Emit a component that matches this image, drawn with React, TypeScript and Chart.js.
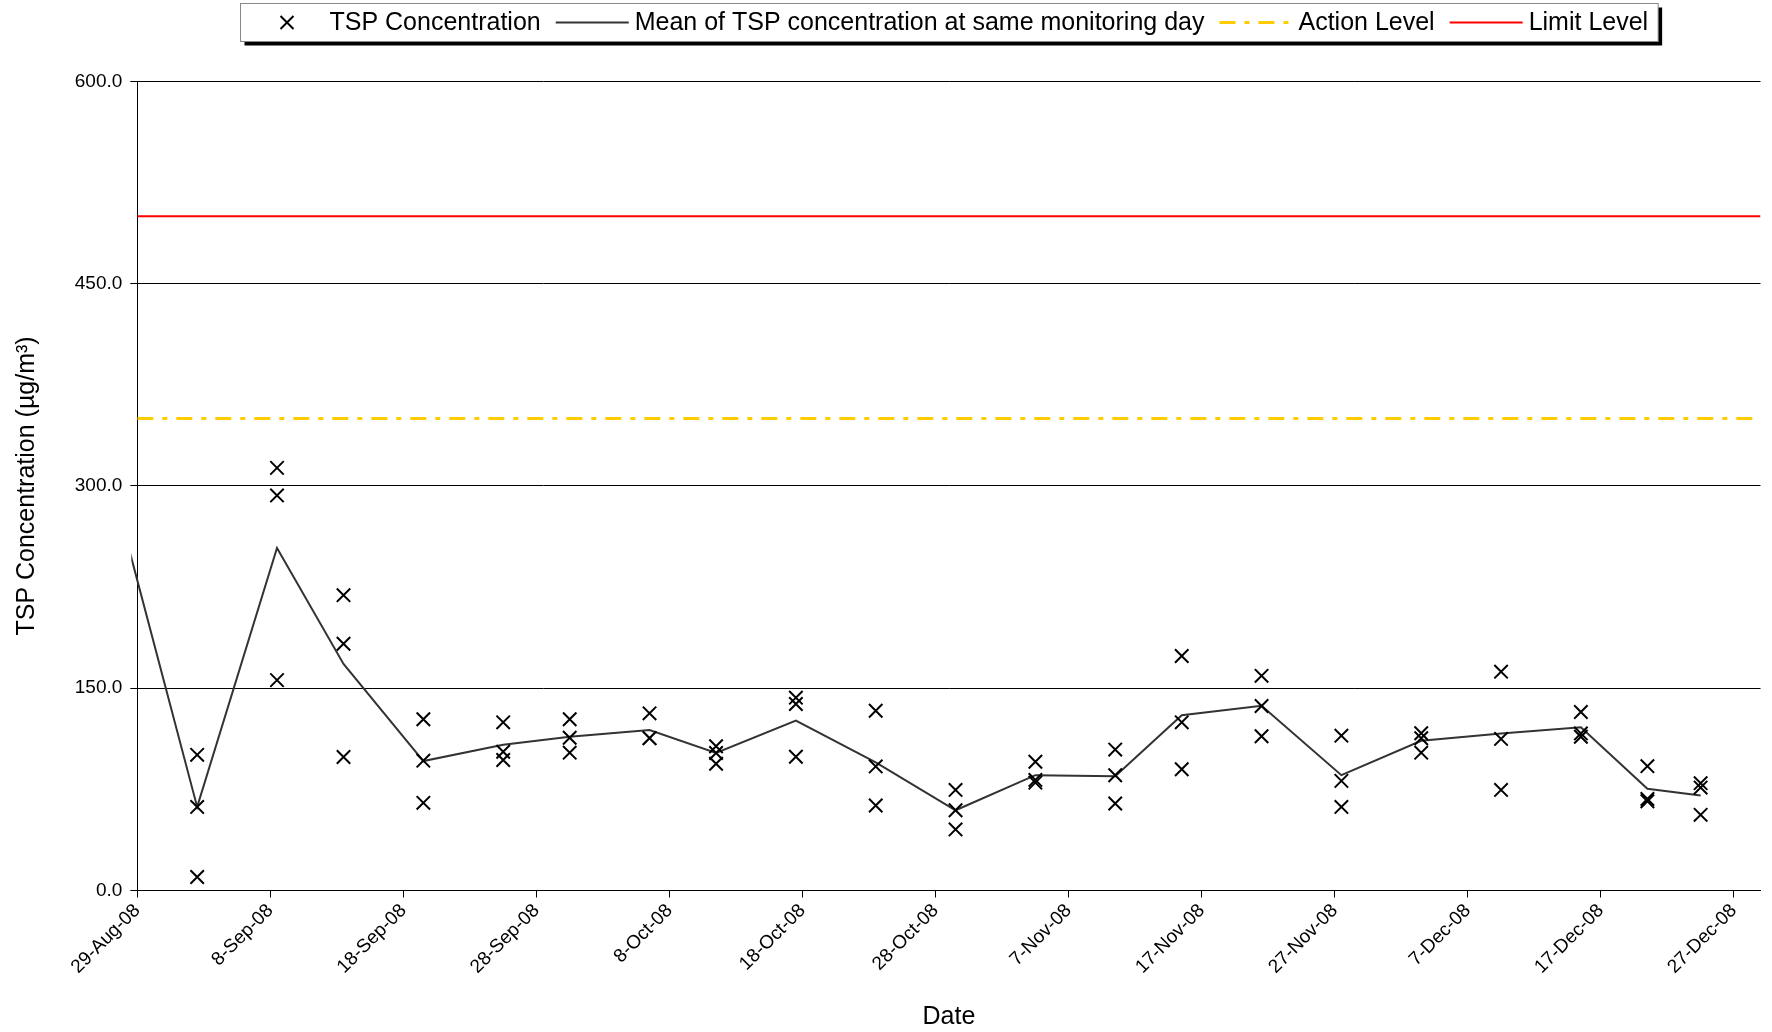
import React, { useEffect, useRef } from "react";
import { Chart, registerables } from "chart.js";

Chart.register(...registerables);

// ---------- data ----------
const axisStartLabel = "29-Aug-08";
const axisEndLabel = "29-Dec-08";
const xTickLabels = [
  "29-Aug-08", "8-Sep-08", "18-Sep-08", "28-Sep-08", "8-Oct-08", "18-Oct-08", "28-Oct-08",
  "7-Nov-08", "17-Nov-08", "27-Nov-08", "7-Dec-08", "17-Dec-08", "27-Dec-08",
];
const yTickValues = [0, 150, 300, 450, 600];

// monitoring days (samples taken around midday)
const monitoringDates = [
  "2008-09-02 12:00", "2008-09-08 12:00", "2008-09-13 12:00", "2008-09-19 12:00",
  "2008-09-25 12:00", "2008-09-30 12:00", "2008-10-06 12:00", "2008-10-11 12:00",
  "2008-10-17 12:00", "2008-10-23 12:00", "2008-10-29 12:00", "2008-11-04 12:00",
  "2008-11-10 12:00", "2008-11-15 12:00", "2008-11-21 12:00", "2008-11-27 12:00",
  "2008-12-03 12:00", "2008-12-09 12:00", "2008-12-15 12:00", "2008-12-20 12:00",
  "2008-12-24 12:00",
];
const tspReading1 = [100.6, 313.4, 219, 127, 124.7, 127, 131.4, 107, 143, 133.3, 74.6, 95.5, 104.5, 173.9, 159.2, 114.8, 116.6, 162.3, 132.4, 92.2, 79.6];
const tspReading2 = [62, 293, 183, 96.3, 102.9, 113.3, 113, 102, 138.3, 92, 59.5, 82, 85.5, 124.7, 136.8, 81.3, 112.9, 112.4, 116.5, 67.9, 76.3];
const tspReading3 = [10, 156, 99, 65, 96.8, 102.2, 113, 94, 99.2, 63, 45.3, 80, 64.5, 89.9, 114.4, 62, 102.2, 74.6, 114, 66.2, 56.1];

// mean line (includes the previous monitoring day, just before the axis start)
const meanDates = ["2008-08-27 12:00", ...monitoringDates];
const meanValues = [286, 62, 254, 168, 96, 108, 114, 119, 102, 126, 95, 59.5, 85.5, 84.8, 130, 137, 85.5, 111, 116.5, 121, 75.4, 70.5];

const actionLevel = 350;
const limitLevel = 500;

const seriesNames = [
  "TSP Concentration",
  "Mean of TSP concentration at same monitoring day",
  "Action Level",
  "Limit Level",
];

// ---------- helpers ----------
const MONTHS = ["Jan", "Feb", "Mar", "Apr", "May", "Jun", "Jul", "Aug", "Sep", "Oct", "Nov", "Dec"];
const DAY_MS = 86400000;

function isoToDay(s: string): number {
  const [d, t] = s.split(" ");
  const [Y, M, D] = d.split("-").map(Number);
  let h = 0;
  if (t) h = Number(t.split(":")[0]);
  return (Date.UTC(Y, M - 1, D) + h * 3600000) / DAY_MS;
}
function labelToDay(s: string): number {
  const [d, m, y] = s.split("-");
  return Date.UTC(2000 + Number(y), MONTHS.indexOf(m), Number(d)) / DAY_MS;
}
function dayToLabel(v: number): string {
  const dt = new Date(Math.round(v) * DAY_MS);
  const yy = String(dt.getUTCFullYear() % 100).padStart(2, "0");
  return `${dt.getUTCDate()}-${MONTHS[dt.getUTCMonth()]}-${yy}`;
}

const FONT = "'Liberation Sans', Arial, Helvetica, sans-serif";

const legendPlugin = {
  id: "boxLegend",
  afterDraw(chart: any) {
    const ctx: CanvasRenderingContext2D = chart.ctx;
    const area = chart.chartArea;
    ctx.save();
    ctx.font = `25px ${FONT}`;
    const glyphW = 73;
    const textGap = 6;
    const itemGap = 15;
    const padL = 10;
    const padR = 10;
    const widths = seriesNames.map((s) => ctx.measureText(s).width);
    let total = padL + padR + itemGap * (seriesNames.length - 1);
    widths.forEach((w) => (total += glyphW + textGap + w));
    const cx = (area.left + area.right) / 2;
    const left = Math.round(cx - total / 2) + 0.5;
    const top = 3.5;
    const h = 38;
    // shadow
    ctx.fillStyle = "#000";
    ctx.fillRect(left + 4, top + 4, total, h);
    ctx.fillStyle = "#fff";
    ctx.fillRect(left, top, total, h);
    ctx.strokeStyle = "#888";
    ctx.lineWidth = 1;
    ctx.strokeRect(left, top, total, h);
    const cy = top + h / 2;
    let x = left + padL;
    seriesNames.forEach((name, i) => {
      const gx = x;
      ctx.save();
      if (i === 0) {
        const r = 6.5;
        const mx = gx + glyphW / 2;
        ctx.strokeStyle = "#000";
        ctx.lineWidth = 2;
        ctx.beginPath();
        ctx.moveTo(mx - r, cy - r);
        ctx.lineTo(mx + r, cy + r);
        ctx.moveTo(mx + r, cy - r);
        ctx.lineTo(mx - r, cy + r);
        ctx.stroke();
      } else {
        const ds = chart.data.datasets[i];
        ctx.strokeStyle = ds.borderColor;
        ctx.lineWidth = ds.borderWidth;
        ctx.setLineDash(ds.borderDash || []);
        ctx.beginPath();
        ctx.moveTo(gx, cy);
        ctx.lineTo(gx + glyphW, cy);
        ctx.stroke();
      }
      ctx.restore();
      ctx.fillStyle = "#000";
      ctx.textBaseline = "middle";
      ctx.textAlign = "left";
      ctx.fillText(name, gx + glyphW + textGap, cy + 1);
      x += glyphW + textGap + widths[i] + itemGap;
    });
    ctx.restore();
  },
};

export default function App() {
  const canvasRef = useRef<HTMLCanvasElement | null>(null);

  useEffect(() => {
    if (!canvasRef.current) return;
    const xMin = labelToDay(axisStartLabel);
    const xMax = labelToDay(axisEndLabel);

    const tspPoints = monitoringDates.flatMap((d, i) =>
      [tspReading1[i], tspReading2[i], tspReading3[i]].map((y) => ({ x: isoToDay(d), y }))
    );
    const meanPoints = meanDates.map((d, i) => ({ x: isoToDay(d), y: meanValues[i] }));

    const chart = new Chart(canvasRef.current, {
      type: "scatter",
      data: {
        datasets: [
          {
            label: seriesNames[0],
            data: tspPoints,
            showLine: false,
            pointStyle: "crossRot",
            pointRadius: 9.5,
            pointBorderWidth: 2,
            borderColor: "#000",
            backgroundColor: "rgba(0,0,0,0)",
            borderWidth: 2,
          },
          {
            label: seriesNames[1],
            data: meanPoints,
            showLine: true,
            borderColor: "#333333",
            borderWidth: 2,
            pointRadius: 0,
            clip: { left: 6, top: 0, right: 0, bottom: 0 },
          },
          {
            label: seriesNames[2],
            data: [
              { x: xMin, y: actionLevel },
              { x: xMax, y: actionLevel },
            ],
            showLine: true,
            borderColor: "#FFCC00",
            borderWidth: 3,
            borderDash: [16, 9, 5, 9],
            pointRadius: 0,
          },
          {
            label: seriesNames[3],
            data: [
              { x: xMin, y: limitLevel },
              { x: xMax, y: limitLevel },
            ],
            showLine: true,
            borderColor: "#FF0000",
            borderWidth: 2,
            pointRadius: 0,
          },
        ],
      } as any,
      options: {
        animation: false,
        responsive: true,
        maintainAspectRatio: false,
        events: [],
        layout: { padding: { top: 81.4, right: 8, bottom: 0, left: 0 } },
        plugins: {
          legend: { display: false },
          tooltip: { enabled: false },
        },
        scales: {
          x: {
            type: "linear",
            min: xMin,
            max: xMax,
            afterBuildTicks: (s: any) => {
              s.ticks = xTickLabels.map((l) => ({ value: labelToDay(l) }));
            },
            afterFit: (s: any) => {
              s.height = 141.5;
            },
            grid: {
              display: true,
              drawOnChartArea: false,
              drawTicks: true,
              tickLength: 7,
              color: "#000",
            },
            border: { display: true, color: "#000", width: 1 },
            ticks: {
              autoSkip: false,
              maxRotation: 45,
              minRotation: 45,
              padding: 2,
              color: "#000",
              font: { family: FONT, size: 19 },
              callback: (v: any) => dayToLabel(Number(v)),
            },
            title: {
              display: true,
              text: "Date",
              color: "#000",
              font: { family: FONT, size: 25 },
              padding: { top: 0, bottom: 0 },
            },
          },
          y: {
            min: 0,
            max: 600,
            afterBuildTicks: (s: any) => {
              s.ticks = yTickValues.map((v) => ({ value: v }));
            },
            afterFit: (s: any) => {
              s.width = 137.3;
            },
            grid: { color: "#000", lineWidth: 1, drawTicks: true, tickLength: 7 },
            border: { display: true, color: "#000", width: 1 },
            ticks: {
              padding: 8,
              color: "#000",
              font: { family: FONT, size: 19 },
              callback: (v: any) => Number(v).toFixed(1),
            },
            title: {
              display: true,
              text: "TSP Concentration (µg/m³)",
              color: "#000",
              font: { family: FONT, size: 25 },
              padding: { top: 12, bottom: 0 },
            },
          },
        },
      } as any,
      plugins: [legendPlugin],
    });
    return () => chart.destroy();
  }, []);

  return (
    <div style={{ position: "fixed", left: 0, top: 0, width: "100vw", height: "100vh", background: "#fff" }}>
      <canvas ref={canvasRef} />
    </div>
  );
}
